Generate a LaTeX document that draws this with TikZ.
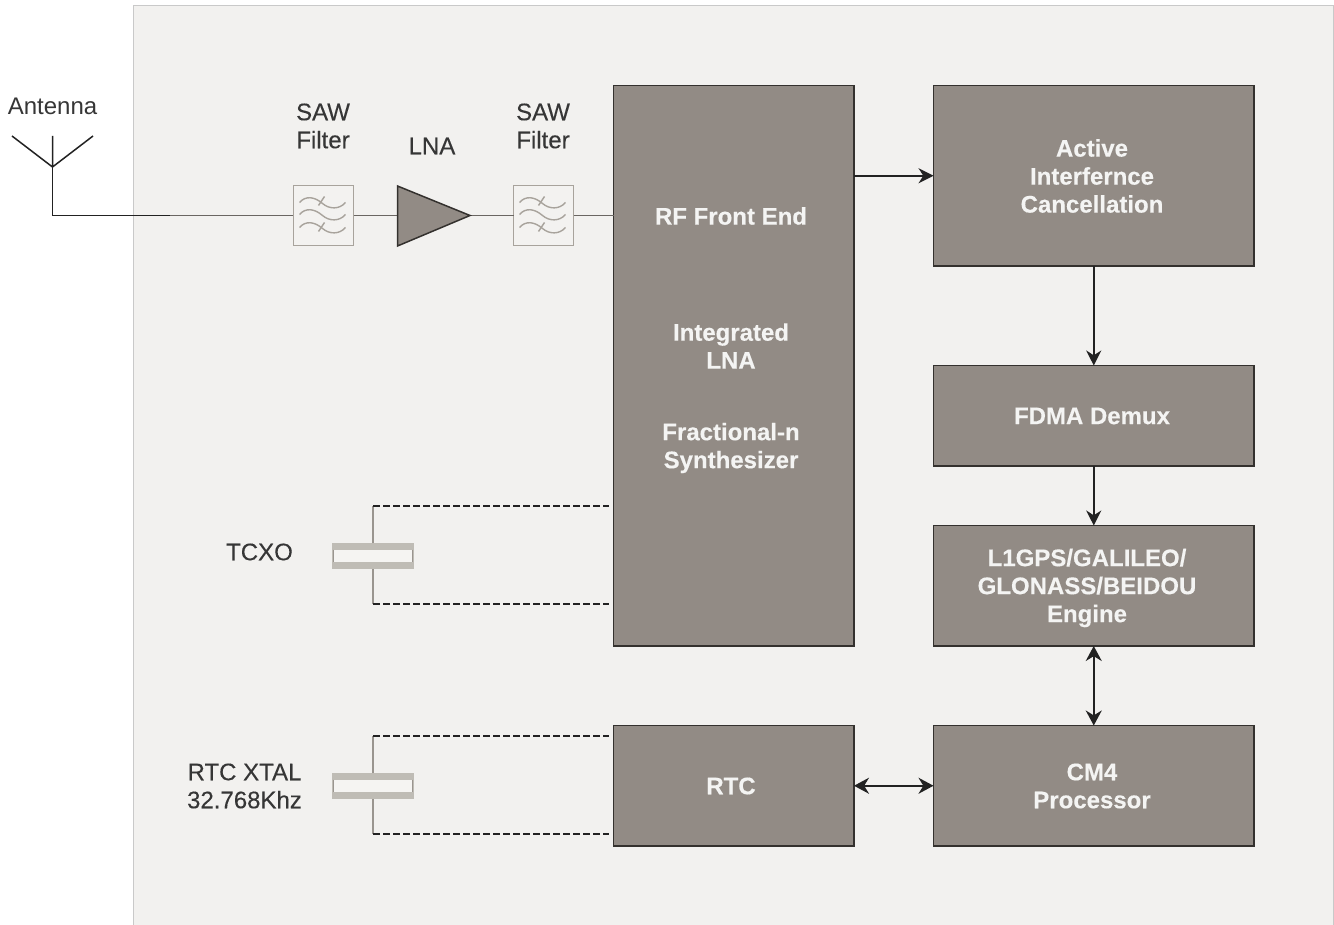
\documentclass[tikz,border=0pt]{standalone}
\usepackage{fontspec}
\setmainfont{Liberation Sans}
\usetikzlibrary{arrows.meta}
\definecolor{panelfill}{HTML}{F2F1EF}
\definecolor{panelline}{HTML}{C9C9C9}
\definecolor{blockfill}{HTML}{928B85}
\definecolor{blockline}{HTML}{34312E}
\definecolor{sawline}{HTML}{A8A39C}
\definecolor{sawfill}{HTML}{F3F2F0}
\definecolor{xtalbar}{HTML}{BFBCB5}
\definecolor{xtalin}{HTML}{F5F4F2}
\definecolor{xtalline}{HTML}{9A958F}
\definecolor{labeltext}{HTML}{363636}
\definecolor{wire}{HTML}{222222}
\definecolor{rfwire}{HTML}{6A6662}
\tikzset{
  x=1pt,y=-1pt,
  block/.style={draw=blockline,line width=1.9pt,fill=blockfill,inner sep=0pt,outer sep=0pt,anchor=north west},
  blocktext/.style={text=white!90!blockfill,font=\fontsize{24}{28}\selectfont\bfseries\addfontfeature{FakeBold=0.25},align=center,inner sep=0pt},
  lbl/.style={text=labeltext,font=\fontsize{24}{28}\selectfont\addfontfeature{FakeBold=0.2},align=center,inner sep=0pt},
  flow/.style={draw=wire,line width=1.9pt,-{Stealth[length=15pt,width=15pt]}},
  flowboth/.style={draw=wire,line width=1.9pt,{Stealth[length=15pt,width=16pt]}-{Stealth[length=15pt,width=16pt]}},
  rf/.style={draw=rfwire,line width=1.9pt},
  dashline/.style={draw=wire,line width=1.3pt,dash pattern=on 6.5pt off 3.5pt},
  xtalstem/.style={draw=xtalline,line width=1.5pt},
  sawbox/.style={draw=sawline,line width=1.5pt,fill=sawfill,minimum width=60pt,minimum height=60pt,inner sep=0pt,outer sep=0pt},
  wave/.style={draw=sawline,line width=1.4pt},
  xbar/.style={fill=xtalbar,draw=none},
}
\newcommand{\onewave}[1]{%
  \draw[wave] (-24,#1) .. controls (-18,#1-7) and (-9,#1-6) .. (-1,#1+1) .. controls (6,#1+7) and (16,#1+7) .. (22,#1);%
}
\newcommand{\sawwaves}[1]{%
  \begin{scope}[shift={(#1)}]
    \onewave{-13}
    \onewave{-1}
    \onewave{12}
    \draw[wave] (1,-19) -- (-5,-10);
    \draw[wave] (1,7) -- (-5,16);
  \end{scope}}
\newcommand{\xtalsym}[1]{%
  \begin{scope}[shift={(#1)}]
    \fill[xbar] (-41,-13) rectangle (41,13);
    \fill[xtalin] (-39,-6.5) rectangle (39,6);
    \draw[xtalline,line width=1pt] (-39.5,-6.5) -- (-39.5,6) (39.5,-6.5) -- (39.5,6);
  \end{scope}}
\begin{document}
\begin{tikzpicture}
\useasboundingbox (0,0) rectangle (1334,925);
\fill[white] (0,0) rectangle (1334,925);
\path[fill=panelfill] (133,6) rectangle (1334,925);
\draw[panelline,line width=1pt] (133,925) -- (133,6) -- (1334,6);
\draw[panelline,line width=1pt] (1333.5,6) -- (1333.5,925);

% blocks
\node[block,minimum width=240.5pt,minimum height=560.5pt] (rf) at (613.5,85.5) {};
\node[block,minimum width=320.5pt,minimum height=180.5pt] (aic) at (933.5,85.5) {};
\node[block,minimum width=320.5pt,minimum height=100.5pt] (fdma) at (933.5,365.5) {};
\node[block,minimum width=320.5pt,minimum height=120.5pt] (eng) at (933.5,525.5) {};
\node[block,minimum width=320.5pt,minimum height=120.5pt] (cm4) at (933.5,725.5) {};
\node[block,minimum width=240.5pt,minimum height=120.5pt] (rtc) at (613.5,725.5) {};

\node[blocktext] (t1) at (731,216) {RF Front End};
\node[blocktext] (t2) at (731,346) {Integrated\\LNA};
\node[blocktext] (t3) at (731,448) {Fractional-n\\Synthesizer};
\node[blocktext] (t4) at (1092,176) {Active\\Interfernce\\Cancellation};
\node[blocktext] (t5) at (1092,416) {FDMA Demux};
\node[blocktext] (t6) at (1087,588) {L1GPS/GALILEO/\\GLONASS/BEIDOU\\Engine};
\node[blocktext] (t7) at (1092,786) {CM4\\Processor};
\node[blocktext] (t8) at (731,786) {RTC};

% labels
\node[lbl,font=\fontsize{24}{28}\selectfont] (ant) at (52.5,106) {Antenna};
\node[lbl] (saw1l) at (323,126) {SAW\\Filter};
\node[lbl] (lnal) at (432,146) {LNA};
\node[lbl] (saw2l) at (543,126) {SAW\\Filter};
\node[lbl] (tcxol) at (259.5,552) {TCXO};
\node[lbl] (rtcl) at (244.5,786) {RTC XTAL\\32.768Khz};

% antenna
\coordinate (afeed) at (52.5,215.5);
\coordinate (apex) at (52.5,167);
\coordinate (atop) at (52.5,136);
\coordinate (al) at (12,136);
\coordinate (ar) at (93,136);
\coordinate (ajoin) at (170,215.5);
\draw[rf] (ajoin) -- (293.5,215.5);
\draw[wire,line width=1.9pt] (apex) -- (afeed) -- (ajoin);
\draw[wire,line width=1.5pt] (atop) -- (apex) (al) -- (apex) -- (ar);

% SAW + LNA chain
\node[sawbox] (saw1) at (323.5,215.5) {};
\node[sawbox] (saw2) at (543.5,215.5) {};
\sawwaves{323.5,215.5}
\sawwaves{543.5,215.5}
\coordinate (lnaA) at (397.5,186);
\coordinate (lnaB) at (397.5,246);
\coordinate (lnaC) at (470,215.5);
\draw[rf] (saw1.east) -- (397.5,215.5);
\draw[rf] (lnaC) -- (saw2.west);
\draw[rf] (saw2.east) -- (rf.west |- saw2.east);
\draw[fill=blockfill,draw=blockline,line width=1.5pt,line join=miter] (lnaA) -- (lnaC) -- (lnaB) -- cycle;

% flows
\draw[flow] (rf.east |- aic.west) -- (aic.west);
\draw[flow] (aic.south) -- (fdma.north);
\draw[flow] (fdma.south) -- (eng.north);
\draw[flowboth] (eng.south) -- (cm4.north);
\draw[flowboth] (rtc.east) -- (cm4.west);

% crystals
\xtalsym{373,556}
\xtalsym{373,786}
\coordinate (x1t) at (373,506);
\coordinate (x1b) at (373,604);
\coordinate (x2t) at (373,736);
\coordinate (x2b) at (373,834);
\draw[xtalstem] (373,543) -- (x1t);
\draw[xtalstem] (373,569) -- (x1b);
\draw[xtalstem] (373,773) -- (x2t);
\draw[xtalstem] (373,799) -- (x2b);
\coordinate (e1) at (609,506);
\coordinate (e2) at (609,604);
\coordinate (e3) at (609,736);
\coordinate (e4) at (609,834);
\draw[dashline] (x1t) -- (e1);
\draw[dashline] (x1b) -- (e2);
\draw[dashline] (x2t) -- (e3);
\draw[dashline] (x2b) -- (e4);
\end{tikzpicture}
\end{document}
